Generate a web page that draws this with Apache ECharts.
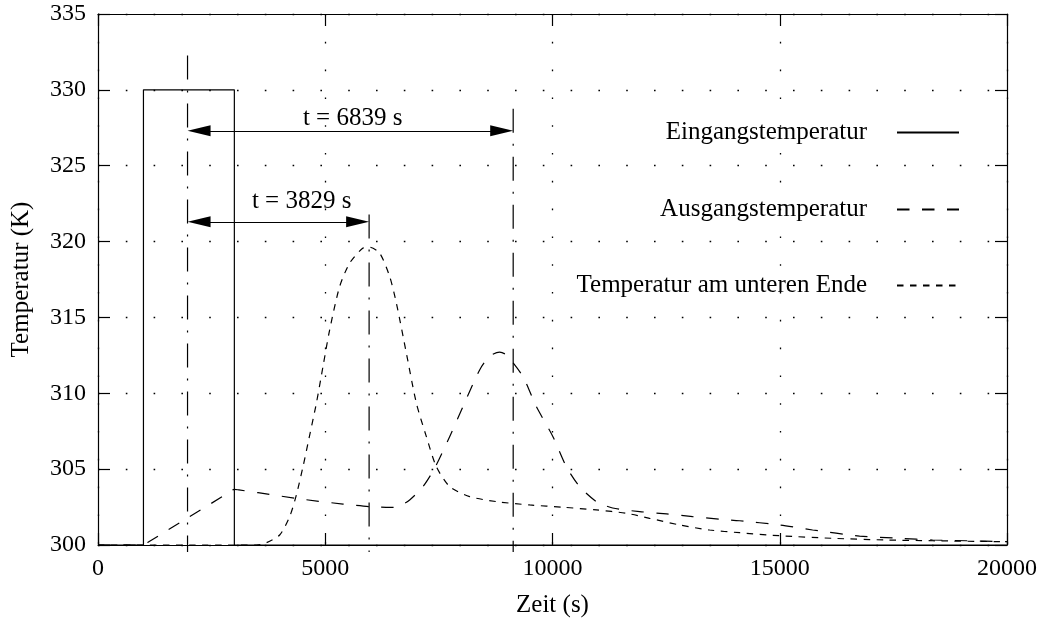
<!DOCTYPE html>
<html>
<head>
<meta charset="utf-8">
<script src="https://cdn.jsdelivr.net/npm/echarts@6/dist/echarts.min.js"></script>
<style>
html,body{margin:0;padding:0;background:#fff;}
#chart{width:1042px;height:630px;}
</style>
</head>
<body>
<div id="chart"></div>
<script>
// ---- data ----
const seriesNames = ['Eingangstemperatur', 'Ausgangstemperatur', 'Temperatur am unteren Ende'];

const inputTemp = [[0,300],[1000,300],[1000,330],[3000,330],[3000,300],[20000,300]];

const outletTemp = [[0,300],[900,300],[1000,300],[1100,300.18],[2000,301.84],[2900,303.49],[3000,303.67],[3100,303.63],
  [3521,303.45],[4511,303.01],[5392,302.70],[5979,302.53],
  [6419,302.48],[6600,302.52],[6857,302.97],[7150,303.85],[7407,305.06],[7737,307.14],[8030,309.12],[8397,311.54],
  [8620,312.45],[8837,312.71],[8985,312.53],[9350,311.10],[9645,309.12],[10010,307.14],[10305,305.16],[10597,303.85],
  [10965,302.86],[11323,302.44],[11917,302.20],[12511,302.05],[13083,301.87],[13677,301.70],[14117,301.60],
  [14997,301.32],[15723,300.99],[16757,300.59],[17637,300.44],[18363,300.33],[19111,300.28],[20000,300.22]];

const bottomTemp = [[0,300],[3000,300],[3491,300.0],[3705,300.15],[3997,300.66],[4217,301.87],[4365,303.30],
  [4510,305.16],[4620,306.71],[4805,309.35],[4950,311.76],[5097,314.18],[5317,317.04],[5537,318.58],[5830,319.57],
  [5977,319.63],[6197,319.24],[6417,317.70],[6565,315.94],[6785,312.64],[7005,309.35],[7225,307.14],[7445,305.16],
  [7738,303.85],[8178,303.19],[8765,302.86],[9497,302.64],[10230,302.49],[10965,302.31],[11625,302.09],
  [12137,301.76],[12797,301.32],[13457,300.99],[14117,300.81],[14997,300.61],[16163,300.44],[17351,300.33],
  [18363,300.28],[19837,300.22],[20000,300.21]];

// vertical marker lines (time, top temperature, bottom temperature)
const markerTimes = [1970, 5965, 9135];
const markerTops = [332.26, 321.78, 328.75];
const markerBottom = 299.54;

// double arrows: start, end (data x, inset for arrowheads), level
const arrowStarts = [2223, 2223];
const arrowEnds = [8882, 5712];
const arrowLevels = [327.3, 321.3];

// annotation texts
const annotTexts = ['t = 6839 s', 't = 3829 s'];
const annotX = [5603, 4481];
const annotY = [328.1, 322.62];

// ---- chart ----
const FONT = 'Liberation Serif';
const chart = echarts.init(document.getElementById('chart'), null, {renderer: 'canvas'});

const gridSplit = {show: true, lineStyle: {color: '#000', width: 1.3, type: [1.6, 26.2]}};
const axisLineStyle = {color: '#000', width: 1.2};

const series = [];
const lineStyles = [
  {color: '#000', width: 1.2, type: 'solid'},
  {color: '#000', width: 1.2, type: [12.5, 12.5]},
  {color: '#000', width: 1.2, type: [6.5, 6.5]}
];
[inputTemp, outletTemp, bottomTemp].forEach((d, i) => {
  series.push({
    type: 'line', name: seriesNames[i], data: d, symbol: 'none',
    smooth: i === 0 ? false : 0.25,
    lineStyle: lineStyles[i], itemStyle: {color: '#000'},
    silent: true, z: 5
  });
});

markerTimes.forEach((t, i) => {
  const s = {
    type: 'line', name: 'marker' + i, data: [[t, markerTops[i]], [t, markerBottom]],
    symbol: 'none', clip: false, silent: true,
    lineStyle: {color: '#000', width: 1.2, type: [24, 11, 2, 11]}, z: 4
  };
  if (i === 0) {
    s.markLine = {
      silent: true, symbol: ['triangle', 'triangle'], symbolSize: [11, 23],
      label: {show: false},
      lineStyle: {color: '#000', width: 1.2, type: 'solid'},
      itemStyle: {color: '#000'},
      data: arrowStarts.map((a, k) => [{coord: [a, arrowLevels[k]]}, {coord: [arrowEnds[k], arrowLevels[k]]}])
    };
    s.markPoint = {
      silent: true, symbol: 'circle', symbolSize: 0,
      itemStyle: {color: 'rgba(0,0,0,0)'},
      label: {show: true, position: 'inside', formatter: '{b}', color: '#000', fontFamily: FONT, fontSize: 25},
      data: annotTexts.map((t, k) => ({name: t, coord: [annotX[k], annotY[k]]}))
    };
  }
  series.push(s);
});

const legendTops = [120, 197, 273];
const legends = seriesNames.map((n, i) => ({
  data: [n], orient: 'horizontal', align: 'right', right: 82, top: legendTops[i],
  padding: 0, itemWidth: 62, itemHeight: 14, selectedMode: false,
  itemStyle: {color: 'rgba(0,0,0,0)', borderWidth: 0, opacity: 0},
  textStyle: {fontFamily: FONT, fontSize: 25, color: '#000', padding: [0, 25, 0, 0]}
}));

const plainNum = v => String(v);

chart.setOption({
  animation: false,
  backgroundColor: '#fff',
  textStyle: {fontFamily: FONT},
  grid: {left: 98, right: 35, top: 14, bottom: 85, containLabel: false},
  legend: legends,
  xAxis: [{
    type: 'value', min: 0, max: 20000, interval: 5000,
    name: 'Zeit (s)', nameLocation: 'middle', nameGap: 48,
    nameTextStyle: {fontFamily: FONT, fontSize: 25, color: '#000'},
    axisLine: {show: true, onZero: false, lineStyle: axisLineStyle},
    axisTick: {show: true, inside: true, length: 12, lineStyle: axisLineStyle},
    axisLabel: {fontFamily: FONT, fontSize: 24, color: '#000', margin: 12, formatter: plainNum},
    splitLine: gridSplit
  }, {
    type: 'value', position: 'top', min: 0, max: 20000, interval: 5000,
    axisLine: {show: true, onZero: false, lineStyle: axisLineStyle},
    axisTick: {show: true, inside: true, length: 12, lineStyle: axisLineStyle},
    axisLabel: {show: false}, splitLine: {show: false}
  }],
  yAxis: [{
    type: 'value', min: 300, max: 335, interval: 5,
    name: 'Temperatur (K)', nameLocation: 'middle', nameGap: 64, nameRotate: 90,
    nameTextStyle: {fontFamily: FONT, fontSize: 25, color: '#000'},
    axisLine: {show: true, onZero: false, lineStyle: axisLineStyle},
    axisTick: {show: true, inside: true, length: 12, lineStyle: axisLineStyle},
    axisLabel: {fontFamily: FONT, fontSize: 24, color: '#000', margin: 12, formatter: plainNum},
    splitLine: gridSplit
  }, {
    type: 'value', position: 'right', min: 300, max: 335, interval: 5,
    axisLine: {show: true, onZero: false, lineStyle: axisLineStyle},
    axisTick: {show: true, inside: true, length: 12, lineStyle: axisLineStyle},
    axisLabel: {show: false}, splitLine: {show: false}
  }],
  series: series
});
</script>
</body>
</html>
